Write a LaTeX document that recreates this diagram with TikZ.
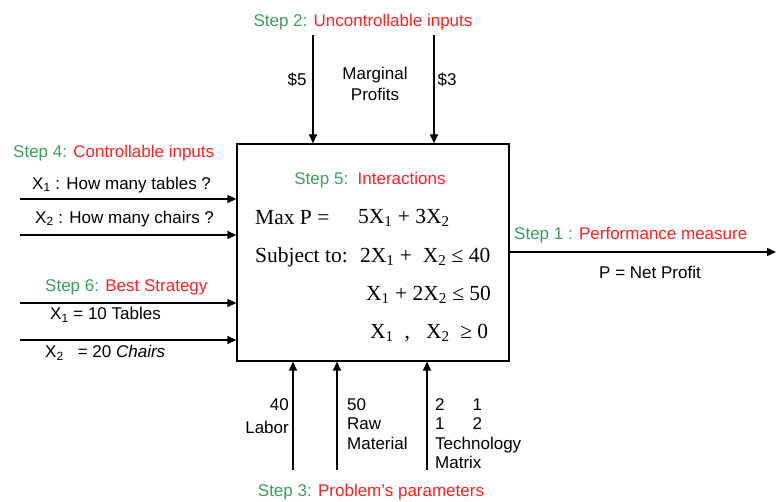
\documentclass[tikz,border=0pt]{standalone}
\usepackage{fontspec}
\setmainfont{Liberation Sans}
\newfontfamily\boxfont{Liberation Serif}
\usetikzlibrary{arrows.meta,positioning,calc}
\definecolor{StepGreen}{HTML}{3C9D5D}
\definecolor{StepRed}{HTML}{FF2020}
\newcommand{\stepname}[2]{\textcolor{StepGreen}{#1}\textcolor{StepRed}{#2}}

\begin{document}
\begin{tikzpicture}[x=1pt,y=1pt,>={Triangle[length=9pt,width=8pt]},
    lbl/.style={inner sep=0pt,font=\fontsize{17}{19.5}\selectfont},
    mth/.style={inner sep=0pt,anchor=west,font=\boxfont\fontsize{21.5}{24}\selectfont},
    arr/.style={->,line width=1.3pt}]
  \useasboundingbox (0,0) rectangle (776,501);
  % the model box
  \node[draw,line width=1.3pt,minimum width=272,minimum height=217,inner sep=0pt] (model) at (373,248.5) {};
  \node[lbl] (s5) at (370,321) {\stepname{Step 5:\ \ }{Interactions}};
  \node[mth] (maxp) at (255,283) {Max P =};
  \node[mth] (obj) at (358,283) {5X\textsubscript{1} + 3X\textsubscript{2}};
  \node[mth] (subj) at (255,244) {Subject to:};
  \node[mth] (c1) at (360,244) {2X\textsubscript{1} + \ X\textsubscript{2} ≤ 40};
  \node[mth] (c2) at (366,206) {X\textsubscript{1} + 2X\textsubscript{2} ≤ 50};
  \node[mth] (c3) at (370,168) {X\textsubscript{1}\ \ ,\ \ \ X\textsubscript{2} \ ≥ 0};
  % top: uncontrollable inputs
  \node[lbl] (s2) at (363,479) {\stepname{Step 2: }{Uncontrollable inputs}};
  \coordinate (u1) at (313,466);
  \coordinate (u2) at (434,466);
  \draw[arr] (u1) -- (u1 |- model.north);
  \draw[arr] (u2) -- (u2 |- model.north);
  \node[lbl] (p5) at (297,421) {\$5};
  \node[lbl,align=center] (mp) at (375,417) {Marginal\\[2pt]Profits};
  \node[lbl] (p3) at (447,421) {\$3};
  % left: controllable inputs and best strategy
  \node[lbl,anchor=west] (s4) at (13,348) {\stepname{Step 4: }{Controllable inputs}};
  \node[lbl,anchor=west] (q1) at (32,316) {X\textsubscript{1} : How many tables ?};
  \node[lbl,anchor=west] (q2) at (35,282) {X\textsubscript{2} : How many chairs ?};
  \node[lbl,anchor=west] (s6) at (45,214) {\stepname{Step 6: }{Best Strategy}};
  \node[lbl,anchor=west] (b1) at (50,186) {X\textsubscript{1} = 10 Tables};
  \node[lbl,anchor=west] (b2) at (45,148) {X\textsubscript{2} \ \ = 20 \textit{Chairs}};
  \foreach \y [count=\i] in {302,266,198,161} {
    \coordinate (l\i) at (20,\y);
    \draw[arr] (l\i) -- (l\i -| model.west);
  }
  % right: performance measure
  \coordinate (out) at (776,249);
  \draw[arr] (model.east |- out) -- (out);
  \node[lbl,anchor=west] (s1) at (514,266) {\stepname{Step 1 : }{Performance measure}};
  \node[lbl] (np) at (650,229) {P = Net Profit};
  % bottom: problem's parameters
  \foreach \x [count=\i] in {293,337,427} {
    \coordinate (d\i) at (\x,31);
    \draw[arr] (d\i) -- (d\i |- model.south);
  }
  \node[lbl,align=right,anchor=north east] (lab) at (289,103) {40\\[4pt]Labor};
  \node[lbl,align=left,anchor=north west] (raw) at (347,103) {50\\Raw\\Material};
  \node[lbl,align=left,anchor=north west] (tec) at (435,103) {2\hspace{28pt}1\\1\hspace{28pt}2\\Technology\\Matrix};
  \node[lbl] (s3) at (371,9) {\stepname{Step 3: }{Problem's parameters}};
\end{tikzpicture}
\end{document}
